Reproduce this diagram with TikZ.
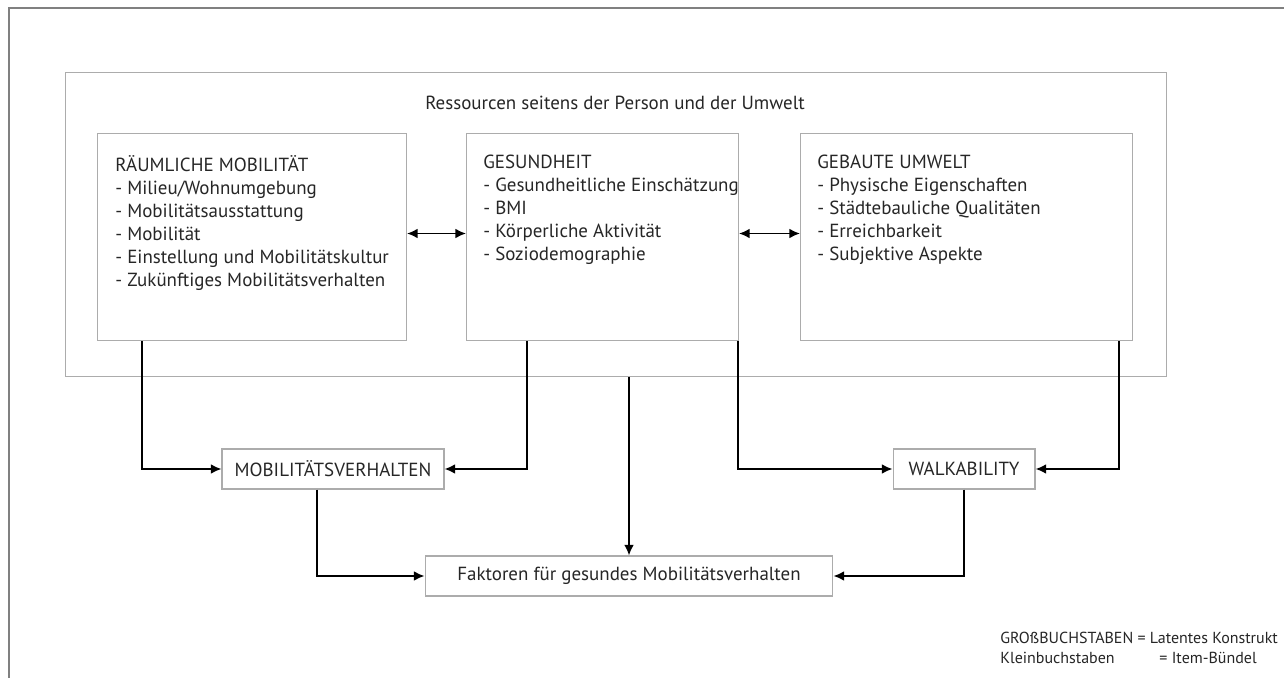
\documentclass[tikz,border=0pt]{standalone}
\usepackage{fontspec}
\setmainfont{PT Sans}
\usetikzlibrary{arrows.meta}

\tikzset{
  box/.style={draw=gray!65, line width=0.6pt, inner sep=0pt, anchor=north west},
  sbox/.style={draw=gray!65, line width=0.6pt, inner sep=0pt, text=black!85,
    font=\fontsize{10.8}{13.1}\selectfont},
  txt/.style={anchor=north west, align=left, inner sep=0pt, text=black!85,
    font=\fontsize{10.8}{13.1}\selectfont},
  flow/.style={-{Latex[length=6pt,width=5.5pt]}, line width=1pt},
  both/.style={{Latex[length=6pt,width=5.5pt]}-{Latex[length=6pt,width=5.5pt]}, line width=1pt},
}

\begin{document}
\begin{tikzpicture}[x=0.02cm, y=-0.02cm]
  \useasboundingbox (0,0) rectangle (1284,678);
  % outer frame
  \draw[gray, line width=0.8pt] (9,678) -- (9,8) -- (1284,8);

  % resources
  \node[box, minimum width=22.02cm, minimum height=6.08cm] (res) at (65,72) {};
  \node[txt, anchor=center] (restitle) at (615,103) {Ressourcen seitens der Person und der Umwelt};

  % the three constructs
  \node[box, minimum width=6.18cm, minimum height=4.14cm] (raum) at (97,133) {};
  \node[box, minimum width=5.44cm, minimum height=4.14cm] (gesund) at (466,133) {};
  \node[box, minimum width=6.64cm, minimum height=4.14cm] (gebaut) at (800,133) {};

  \node[txt] (raumtxt) at (115,155) {R\"AUMLICHE MOBILIT\"AT\\
    - Milieu/Wohnumgebung\\
    - Mobilit\"atsausstattung\\
    - Mobilit\"at\\
    - Einstellung und Mobilit\"atskultur\\
    - Zuk\"unftiges Mobilit\"atsverhalten};
  \node[txt] (gesundtxt) at (483,155) {GESUNDHEIT\\
    - Gesundheitliche Einsch\"atzung\\
    - BMI\\
    - K\"orperliche Aktivit\"at\\
    - Soziodemographie};
  \node[txt] (gebauttxt) at (817,155) {GEBAUTE UMWELT\\
    - Physische Eigenschaften\\
    - St\"adtebauliche Qualit\"aten\\
    - Erreichbarkeit\\
    - Subjektive Aspekte};

  % outcomes
  \node[sbox, minimum width=4.44cm, minimum height=0.8cm] (mobv) at (333,469) {MOBILIT\"ATSVERHALTEN};
  \node[sbox, minimum width=2.84cm, minimum height=0.8cm] (walk) at (964,469) {WALKABILITY};
  \node[sbox, minimum width=8.16cm, minimum height=0.8cm] (faktor) at (629,576) {Faktoren f\"ur gesundes Mobilit\"atsverhalten};

  % connectors
  \draw[both] ([yshift=0.07cm]raum.east) -- ([yshift=0.07cm]gesund.west);
  \draw[both] ([yshift=0.07cm]gesund.east) -- ([yshift=0.07cm]gebaut.west);
  \draw[flow] ([xshift=0.9cm]raum.south west) |- (mobv.west);
  \draw[flow] ([xshift=1.22cm]gesund.south west) |- (mobv.east);
  \draw[flow] ([xshift=-0.02cm]gesund.south east) |- (walk.west);
  \draw[flow] ([xshift=-0.28cm]gebaut.south east) |- (walk.east);
  \draw[flow] (faktor.north |- res.south) -- (faktor.north);
  \draw[flow] ([xshift=-0.32cm]mobv.south) |- (faktor.west);
  \draw[flow] (walk.south) |- (faktor.east);

  % legend
  \node[txt, font=\fontsize{9.1}{11}\selectfont] (legende) at (1000,632) {GRO\ss BUCHSTABEN = Latentes Konstrukt\\
    Kleinbuchstaben\hspace{2.8em}= Item-B\"undel};
\end{tikzpicture}
\end{document}
